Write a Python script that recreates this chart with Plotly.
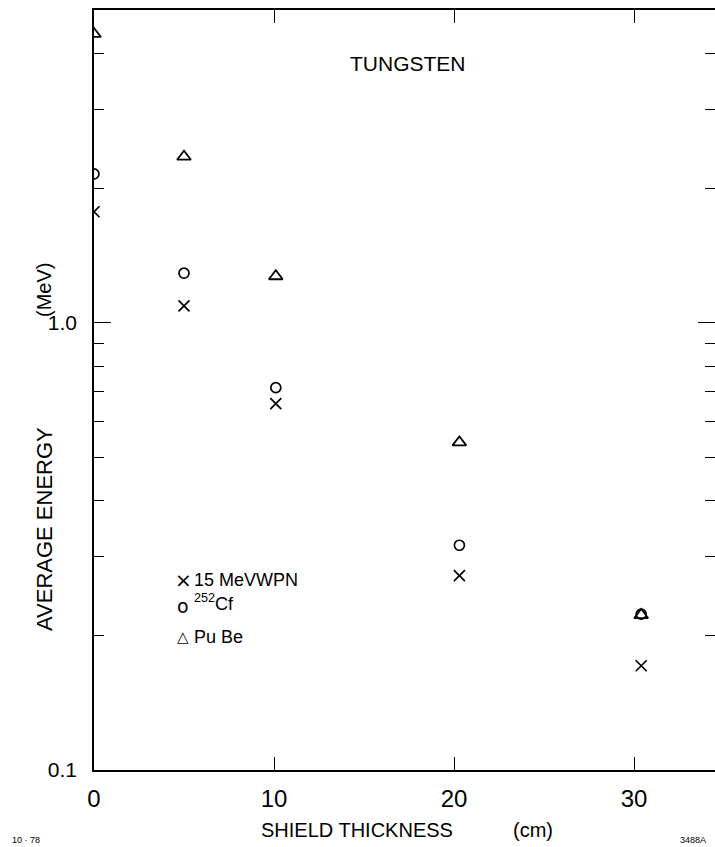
import plotly.graph_objects as go
import math

# ---- data ----
thickness = [0, 5, 10.1, 20.3, 30.4]          # shield thickness (cm)
wpn15 = [1.77, 1.09, 0.659, 0.272, 0.171]      # 15 MeV WPN
cf252 = [2.15, 1.29, 0.716, 0.318, 0.223]      # 252Cf
pube = [4.42, 2.35, 1.27, 0.540, 0.222]        # Pu Be

series_names = ["15 MeVWPN", "<sup>252</sup>Cf", "Pu Be"]
legend_glyphs = ["×", "o", "△"]

x_tickvals = [0, 10, 20, 30]
x_ticktext = ["0", "10", "20", "30"]
y_tickvals = [0.1, 1.0]
y_ticktext = ["0.1", "1.0"]
y_minor = [0.2, 0.3, 0.4, 0.5, 0.6, 0.7, 0.8, 0.9, 2, 3, 4]

FONT = "Liberation Sans"
W, H = 715, 847
PL, PR, PT, PB = 94, 715, 10, 770

fig = go.Figure()
fig.add_trace(go.Scatter(x=thickness, y=wpn15, mode="markers", name=series_names[0],
                         marker=dict(symbol="x-thin", size=11, line=dict(width=1.7, color="black"), color="black")))
fig.add_trace(go.Scatter(x=thickness, y=cf252, mode="markers", name=series_names[1],
                         marker=dict(symbol="circle-open", size=10, line=dict(width=1.7, color="black"), color="black")))
fig.add_trace(go.Scatter(x=thickness, y=pube, mode="markers", name=series_names[2],
                         marker=dict(symbol="triangle-up-open", size=12, line=dict(width=1.8, color="black"), color="black")))

fig.update_layout(
    width=W, height=H,
    margin=dict(l=PL, r=W - PR, t=PT, b=H - PB, autoexpand=False),
    paper_bgcolor="white", plot_bgcolor="white",
    showlegend=False,
    font=dict(family=FONT, color="black"),
)

fig.update_xaxes(
    range=[0, 34.5], tickmode="array", tickvals=x_tickvals, ticktext=x_ticktext,
    ticks="inside", ticklen=13, tickwidth=1.3, tickcolor="black",
    showline=True, linecolor="black", linewidth=1.5, mirror="ticks",
    showgrid=False, zeroline=False,
    tickfont=dict(size=24, family=FONT), ticklabelstandoff=6,
)
fig.update_yaxes(
    type="log", range=[-1, math.log10(5)],
    tickmode="array", tickvals=y_tickvals, ticktext=y_ticktext,
    ticks="inside", ticklen=17, tickwidth=1.3, tickcolor="black",
    minor=dict(tickmode="array", tickvals=y_minor, ticks="inside", ticklen=10,
               tickwidth=1.2, tickcolor="black", showgrid=False),
    showline=True, linecolor="black", linewidth=1.5, mirror="ticks",
    showgrid=False, zeroline=False,
    tickfont=dict(size=21, family=FONT), ticklabelstandoff=11,
)

# annotations given in figure pixels, converted to paper coords below
anns = []
anns.append(dict(text="TUNGSTEN", x=408, y=63, font=dict(size=21, family=FONT)))
anns.append(dict(text="SHIELD THICKNESS", x=357, y=830, font=dict(size=20, family=FONT)))
anns.append(dict(text="(cm)", x=533, y=830, font=dict(size=20, family=FONT)))
anns.append(dict(text="AVERAGE ENERGY", x=44, y=529, textangle=-90, font=dict(size=22, family=FONT)))
anns.append(dict(text="(MeV)", x=44, y=290, textangle=-90, font=dict(size=20, family=FONT)))
# legend
leg_y = [580, 606, 637]
glyph_sizes = [20, 19, 15]
for g, nm, yy, gs in zip(legend_glyphs, series_names, leg_y, glyph_sizes):
    anns.append(dict(text=g, x=183, y=yy, font=dict(size=gs, family="DejaVu Sans")))
    anns.append(dict(text=nm, x=192, y=yy - (4 if "sup" in nm else 0), xanchor="left",
                     font=dict(size=18, family=FONT)))
anns.append(dict(text="10 · 78", x=10, y=840, xanchor="left", font=dict(size=9, family=FONT)))
anns.append(dict(text="3488A", x=708, y=840, xanchor="right", font=dict(size=9, family=FONT)))

for a in anns:
    px, py = a["x"], a["y"]
    a["xref"] = "paper"
    a["yref"] = "paper"
    a["x"] = (px - PL) / (PR - PL)
    a["y"] = (PB - py) / (PB - PT)
    a["showarrow"] = False
    a.setdefault("yanchor", "middle")
    a.setdefault("xanchor", "center")

fig.update_layout(annotations=anns)
fig.write_html("out.html", config={"displayModeBar": False},
               post_script="document.body.style.margin='0px';document.body.style.overflow='hidden';")
